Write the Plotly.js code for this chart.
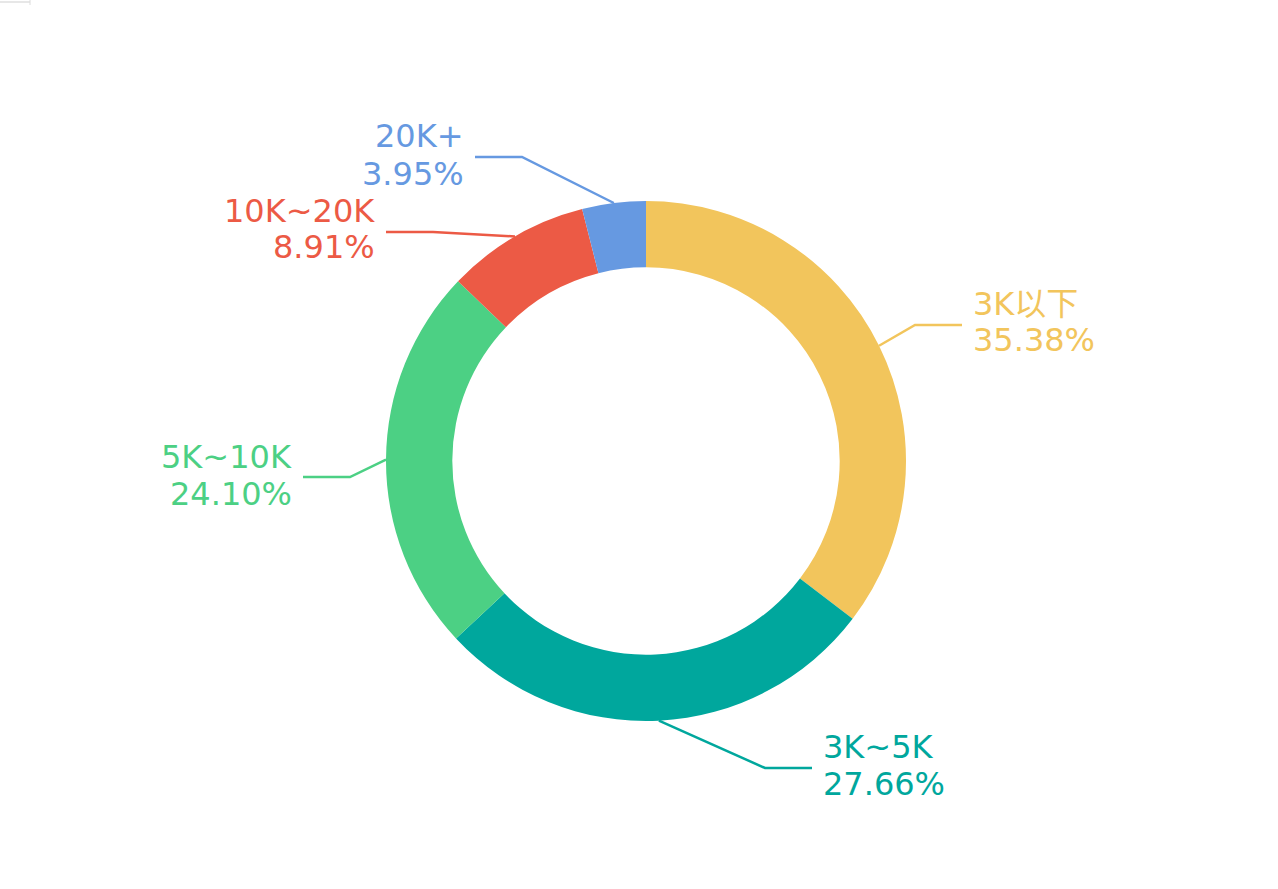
<!DOCTYPE html>
<html>
<head>
<meta charset="utf-8">
<script src="https://cdn.plot.ly/plotly-3.0.1.min.js"></script>
<style>html,body{margin:0;padding:0;background:#fff;}#chart{width:1278px;height:889px;}</style>
</head>
<body>
<div id="chart"></div>
<script>
// ---- data ----
const categories = ["3K以下", "3K~5K", "5K~10K", "10K~20K", "20K+"];
const percentages = [35.38, 27.66, 24.10, 8.91, 3.95];
const colors = ["#F2C55C", "#00A79D", "#4CD084", "#EC5A45", "#6699E1"];

// ---- layout constants (pixels) ----
const W = 1278, H = 889;
const CX = 646, CY = 461, R = 260, HOLE = 0.745;
// label placement: elbow point of leader line, side of label, vertical centre of label block
const labelPlacement = [
  {elbow: [915, 325], side: 1,  cy: 322},
  {elbow: [765, 768], side: 1,  cy: 765},
  {elbow: [350, 477], side: -1, cy: 475},
  {elbow: [433, 232], side: -1, cy: 229},
  {elbow: [522, 157], side: -1, cy: 155}
];
const SEG2 = 47, GAP = 9, LINE_GAP = 37, FONT_SIZE = 32;

const px = x => x / W;
const py = y => 1 - y / H;

const total = percentages.reduce((a, b) => a + b, 0);
const shapes = [];
const annotations = [];
let cum = 0;
percentages.forEach((v, i) => {
  const theta = 2 * Math.PI * (cum + v / 2) / total;
  cum += v;
  const sx = CX + R * Math.sin(theta);
  const sy = CY - R * Math.cos(theta);
  const p = labelPlacement[i];
  const ex = p.elbow[0] + p.side * SEG2;
  const ey = p.elbow[1];
  shapes.push({
    type: 'path', xref: 'paper', yref: 'paper',
    path: `M ${px(sx)} ${py(sy)} L ${px(p.elbow[0])} ${py(p.elbow[1])} L ${px(ex)} ${py(ey)}`,
    line: {color: colors[i], width: 2.5}
  });
  const tx = ex + p.side * GAP;
  const lines = [categories[i], v.toFixed(2) + '%'];
  lines.forEach((t, k) => {
    annotations.push({
      xref: 'paper', yref: 'paper',
      x: px(tx), y: py(p.cy + (k === 0 ? -LINE_GAP / 2 : LINE_GAP / 2)),
      text: t, showarrow: false,
      xanchor: p.side > 0 ? 'left' : 'right', yanchor: 'middle',
      font: {family: 'DejaVu Sans, Noto Sans CJK SC, sans-serif', size: FONT_SIZE, color: colors[i]}
    });
  });
});

// faint frame artifact at the top-left corner
shapes.push({type: 'line', xref: 'paper', yref: 'paper', x0: px(0), y0: py(2), x1: px(30), y1: py(2), line: {color: '#cfcfcf', width: 1}});
shapes.push({type: 'line', xref: 'paper', yref: 'paper', x0: px(30), y0: py(0), x1: px(30), y1: py(5), line: {color: '#dcdcdc', width: 1}});

const trace = {
  type: 'pie',
  labels: categories,
  values: percentages,
  sort: false,
  direction: 'clockwise',
  rotation: 0,
  hole: HOLE,
  textinfo: 'none',
  marker: {colors: colors, line: {width: 0}},
  domain: {x: [px(CX - R), px(CX + R)], y: [py(CY + R), py(CY - R)]},
  showlegend: false
};

Plotly.newPlot('chart', [trace], {
  width: W, height: H,
  margin: {l: 0, r: 0, t: 0, b: 0},
  paper_bgcolor: '#fff',
  shapes: shapes,
  annotations: annotations
}, {displayModeBar: false, staticPlot: true});
</script>
</body>
</html>
